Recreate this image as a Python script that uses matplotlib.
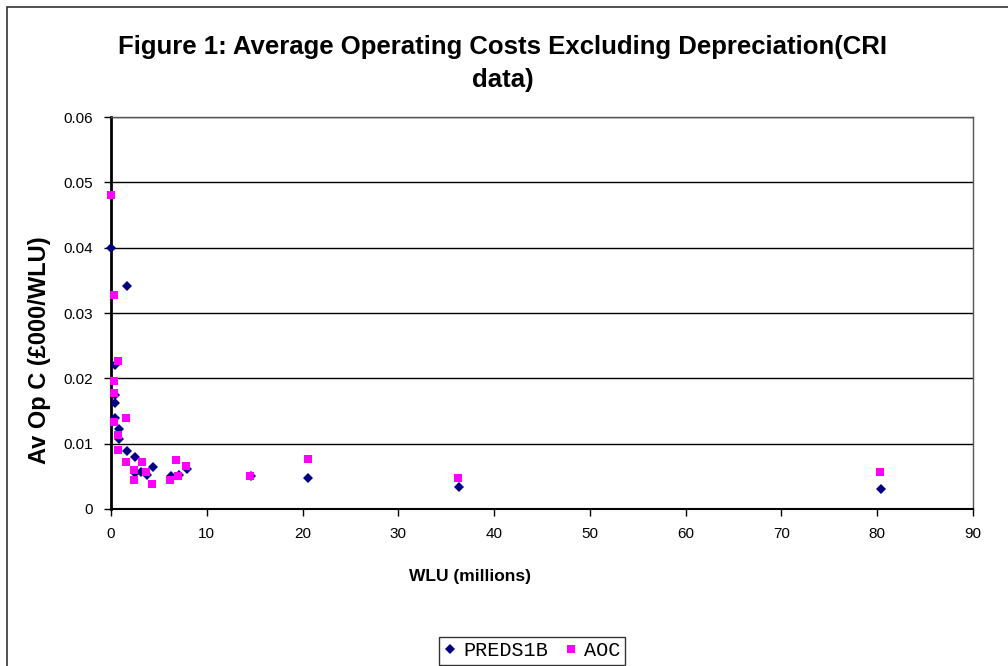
import matplotlib
matplotlib.use("Agg")
import matplotlib.pyplot as plt
from matplotlib.patches import Rectangle

# PREDS1B (navy diamonds)
pred_x = [0.0, 1.66, 0.42, 0.42, 0.42, 0.42, 0.83, 0.83, 1.66, 2.5, 2.5,
          3.1, 3.75, 4.37, 6.25, 7.08, 7.9, 14.6, 20.6, 36.3, 80.4]
pred_y = [0.0399, 0.0341, 0.0220, 0.0174, 0.0162, 0.0140, 0.0123, 0.0107,
          0.0089, 0.0079, 0.0055, 0.0057, 0.0052, 0.0065, 0.0051, 0.0052,
          0.0061, 0.0051, 0.0048, 0.0033, 0.0030]

# AOC (magenta squares)
aoc_x = [0.0, 0.34, 0.76, 0.34, 0.34, 1.6, 0.34, 0.76, 0.76, 1.6, 2.43,
         2.43, 3.26, 3.68, 4.3, 6.2, 6.8, 7.0, 7.84, 14.5, 20.6, 36.2, 80.3]
aoc_y = [0.0480, 0.0327, 0.0227, 0.0196, 0.0178, 0.0139, 0.0133, 0.0113,
         0.0090, 0.0072, 0.0059, 0.0045, 0.0072, 0.0056, 0.0039, 0.0045,
         0.0075, 0.0051, 0.0066, 0.0050, 0.0077, 0.0047, 0.0056]

x_ticks = [0, 10, 20, 30, 40, 50, 60, 70, 80, 90]
y_ticks = [0, 0.01, 0.02, 0.03, 0.04, 0.05, 0.06]
y_tick_labels = ['0', '0.01', '0.02', '0.03', '0.04', '0.05', '0.06']

plt.rcParams['font.family'] = ['Liberation Sans', 'DejaVu Sans']

fig = plt.figure(figsize=(10.08, 6.66), dpi=100)
ax = fig.add_axes([111 / 1008, 1 - 509 / 666, 862 / 1008, 392 / 666])

# outer chart border
fig.patches.append(Rectangle((7 / 1008, -0.01), 1.02, 1 - 7 / 666 + 0.01,
                             transform=fig.transFigure, fill=False,
                             edgecolor='#333333', linewidth=1.2))

ax.plot(pred_x, pred_y, linestyle='none', marker='D', markersize=5.5,
        color='#000080', markeredgewidth=0, label='PREDS1B', clip_on=False,
        zorder=3)
ax.plot(aoc_x, aoc_y, linestyle='none', marker='s', markersize=6.0,
        color='#FF00FF', markeredgewidth=0, label='AOC', clip_on=False,
        zorder=4)

ax.set_xlim(0, 90)
ax.set_ylim(0, 0.06)
ax.set_xticks(x_ticks)
ax.set_yticks(y_ticks)
ax.set_yticklabels(y_tick_labels)
ax.tick_params(axis='both', direction='out', length=5, width=1,
               labelsize=11, pad=8)
ax.yaxis.grid(True, color='black', linewidth=1)
ax.set_axisbelow(True)

ax.spines['left'].set_linewidth(2)
ax.spines['bottom'].set_linewidth(1.5)
for side in ('top', 'right'):
    ax.spines[side].set_color('#555555')
    ax.spines[side].set_linewidth(1)

fig.text(503 / 1008, 1 - 47 / 666,
         'Figure 1: Average Operating Costs Excluding Depreciation(CRI',
         ha='center', va='center', fontsize=18.5, fontweight='bold')
fig.text(503 / 1008, 1 - 80 / 666, 'data)', ha='center', va='center',
         fontsize=18.5, fontweight='bold')

fig.text(40 / 1008, 1 - 350 / 666, 'Av Op C (£000/WLU)', rotation=90,
         ha='center', va='center', fontsize=17, fontweight='bold')
fig.text(470 / 1008, 1 - 577 / 666, 'WLU (millions)', ha='center',
         va='center', fontsize=12.5, fontweight='bold')

leg = fig.legend(loc='center', bbox_to_anchor=(532 / 1008, 1 - 651 / 666),
                 ncol=2, frameon=True, fancybox=False, edgecolor='black',
                 prop={'family': 'Liberation Mono', 'size': 14.5},
                 handlelength=0.7, handletextpad=0.3, columnspacing=0.8,
                 borderpad=0.2)
leg.get_frame().set_linewidth(1)

fig.savefig('out.png', dpi=100)
